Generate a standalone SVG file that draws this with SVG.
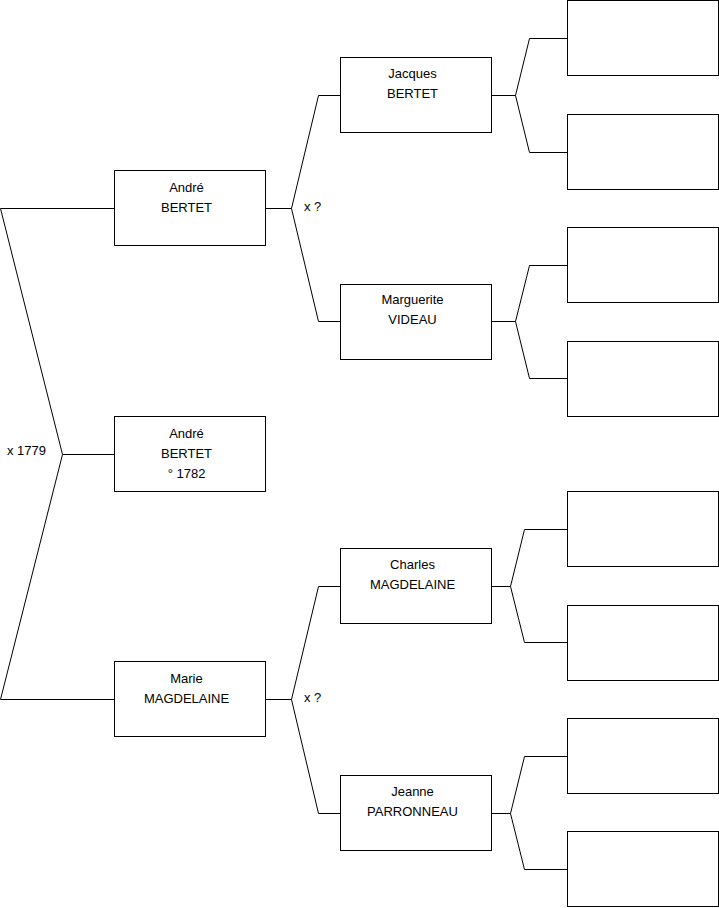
<svg xmlns="http://www.w3.org/2000/svg" width="719" height="908" viewBox="0 0 719 908">
<style>
.box{fill:#fff;stroke:#000;stroke-width:1}
.c{fill:none;stroke:#000;stroke-width:1}
text{font-family:"Liberation Sans",Arial,sans-serif;font-size:13px;fill:#000}
.m{text-anchor:middle}
</style>
<rect width="719" height="908" fill="#fff"/>
<g id="connectors">
<path class="c" d="M0.5,208.5H114 M0.5,208.5L62.5,454.5L0.5,699.5H114 M62.5,454.5H114"/>
<path class="c" d="M266,208.5H291.5L318.5,95.5H341 M291.5,208.5L318.5,321.5H341"/>
<path class="c" d="M266,699.5H291.5L318.5,586.5H341 M291.5,699.5L318.5,813.5H341"/>
<path class="c" d="M492,95.5H515.5L529.5,38.5H567 M515.5,95.5L529.5,152.5H567"/>
<path class="c" d="M492,321.5H515.5L529.5,265.5H567 M515.5,321.5L529.5,378.5H567"/>
<path class="c" d="M492,586.5H510.5L524.5,529.5H567 M510.5,586.5L524.5,642.5H567"/>
<path class="c" d="M492,813.5H510.5L524.5,756.5H567 M510.5,813.5L524.5,869.5H567"/>
<text x="7" y="455">x 1779</text>
<text x="304" y="211">x ?</text>
<text x="304" y="702">x ?</text>
</g>
<g id="n-andre-1782"><rect class="box" x="114.5" y="416.5" width="151" height="75"/><text class="m" x="186.5" y="438">André</text><text class="m" x="186.5" y="458">BERTET</text><text class="m" x="186.5" y="478">° 1782</text></g>
<g id="n-andre"><rect class="box" x="114.5" y="170.5" width="151" height="75"/><text class="m" x="186.5" y="192">André</text><text class="m" x="186.5" y="212">BERTET</text></g>
<g id="n-marie"><rect class="box" x="114.5" y="661.5" width="151" height="75"/><text class="m" x="186.5" y="683">Marie</text><text class="m" x="186.5" y="703">MAGDELAINE</text></g>
<g id="n-jacques"><rect class="box" x="340.5" y="57.5" width="151" height="75"/><text class="m" x="412.5" y="78">Jacques</text><text class="m" x="412.5" y="98">BERTET</text></g>
<g id="n-marguerite"><rect class="box" x="340.5" y="284.5" width="151" height="75"/><text class="m" x="412.5" y="304">Marguerite</text><text class="m" x="412.5" y="324">VIDEAU</text></g>
<g id="n-charles"><rect class="box" x="340.5" y="548.5" width="151" height="75"/><text class="m" x="412.5" y="569">Charles</text><text class="m" x="412.5" y="589">MAGDELAINE</text></g>
<g id="n-jeanne"><rect class="box" x="340.5" y="775.5" width="151" height="75"/><text class="m" x="412.5" y="796">Jeanne</text><text class="m" x="412.5" y="816">PARRONNEAU</text></g>
<g id="n-g4-1"><rect class="box" x="567.5" y="0.5" width="151" height="75"/></g>
<g id="n-g4-2"><rect class="box" x="567.5" y="114.5" width="151" height="75"/></g>
<g id="n-g4-3"><rect class="box" x="567.5" y="227.5" width="151" height="75"/></g>
<g id="n-g4-4"><rect class="box" x="567.5" y="341.5" width="151" height="75"/></g>
<g id="n-g4-5"><rect class="box" x="567.5" y="491.5" width="151" height="75"/></g>
<g id="n-g4-6"><rect class="box" x="567.5" y="605.5" width="151" height="75"/></g>
<g id="n-g4-7"><rect class="box" x="567.5" y="718.5" width="151" height="75"/></g>
<g id="n-g4-8"><rect class="box" x="567.5" y="831.5" width="151" height="75"/></g>
</svg>
